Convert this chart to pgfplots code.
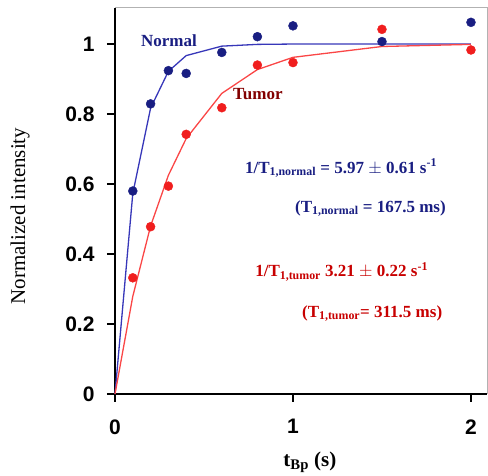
\documentclass[border=0pt]{standalone}
\usepackage{fontspec}
\setmainfont{Liberation Serif}
\newfontfamily\sansfont{Liberation Sans}
\usepackage{pgfplots}
\pgfplotsset{compat=1.18}
\definecolor{navy}{RGB}{25,30,130}
\definecolor{lineblue}{RGB}{55,55,185}
\definecolor{dotred}{RGB}{240,30,30}
\definecolor{linered}{RGB}{250,70,70}
\definecolor{darkred}{RGB}{130,0,0}
\definecolor{textred}{RGB}{200,0,0}
\begin{document}
\begin{tikzpicture}
\path[use as bounding box] (-115pt,-82pt) rectangle (373pt,394pt);
\begin{axis}[
  scale only axis, width=372pt, height=386pt,
  xmin=0, xmax=2.09, ymin=0, ymax=1.103,
  axis x line*=bottom, axis y line*=left,
  axis line style={line width=2pt,-},
  xtick={0,1,2}, ytick={0,0.2,0.4,0.6,0.8,1},
  tick align=outside, major tick length=8pt,
  tick style={line width=1.2pt,black},
  ticklabel style={font=\sansfont\bfseries\fontsize{21}{21}\selectfont},
  yticklabel style={xshift=-9pt},
  xticklabel style={yshift=-14pt},
  /pgf/number format/assume math mode=true,
  ylabel={Normalized intensity},
  ylabel style={font=\fontsize{21}{21}\selectfont, at={(axis description cs:-0.255,0.461)}, anchor=center},
  xlabel={\textbf{t\textsubscript{Bp} (s)}},
  xlabel style={font=\fontsize{21}{21}\selectfont, at={(axis description cs:0.524,-0.176)}, anchor=center},
  clip=false,
]
% fitted curves
\addplot[lineblue, line width=1.3pt] coordinates {
(0,0)(0.1,0.573)(0.2,0.817)(0.3,0.922)(0.4,0.967)(0.6,0.994)(0.8,0.999)(1,1.0)(1.5,1.0)(2,1.0)
};
\addplot[linered, line width=1.3pt] coordinates {
(0,0)(0.1,0.279)(0.2,0.480)(0.3,0.625)(0.4,0.730)(0.6,0.859)(0.8,0.927)(1,0.962)(1.5,0.993)(2,0.999)
};
% measured points
\addplot[only marks, mark=*, mark size=4.5pt, navy] coordinates {
(0.1,0.58)(0.2,0.829)(0.3,0.924)(0.4,0.916)(0.6,0.976)(0.8,1.021)(1,1.052)(1.5,1.007)(2,1.062)
};
\addplot[only marks, mark=*, mark size=4.5pt, dotred] coordinates {
(0.1,0.332)(0.2,0.478)(0.3,0.594)(0.4,0.742)(0.6,0.818)(0.8,0.94)(1,0.947)(1.5,1.042)(2,0.983)
};
\draw[gray!60, line width=1pt] (rel axis cs:0,1) -- (rel axis cs:1,1) -- (rel axis cs:1,0);
\node[navy, font=\bfseries\fontsize{17}{17}\selectfont] at (axis cs:0.303,1.009) {Normal};
\node[darkred, font=\bfseries\fontsize{17}{17}\selectfont] at (axis cs:0.803,0.857) {Tumor};
\node[navy, anchor=base west, inner sep=0pt, font=\bfseries\fontsize{17}{17}\selectfont] at (axis cs:0.73,0.631)
  {1/T\textsubscript{1,normal} = 5.97 $\pm$ 0.61 s\textsuperscript{-1}};
\node[navy, anchor=base west, inner sep=0pt, font=\bfseries\fontsize{17}{17}\selectfont] at (axis cs:1.011,0.52)
  {(T\textsubscript{1,normal} = 167.5 ms)};
\node[textred, anchor=base west, inner sep=0pt, font=\bfseries\fontsize{17}{17}\selectfont] at (axis cs:0.787,0.335)
  {1/T\textsubscript{1,tumor} 3.21 $\pm$ 0.22 s\textsuperscript{-1}};
\node[textred, anchor=base west, inner sep=0pt, font=\bfseries\fontsize{17}{17}\selectfont] at (axis cs:1.05,0.22)
  {(T\textsubscript{1,tumor}= 311.5 ms)};
\end{axis}
\end{tikzpicture}
\end{document}
